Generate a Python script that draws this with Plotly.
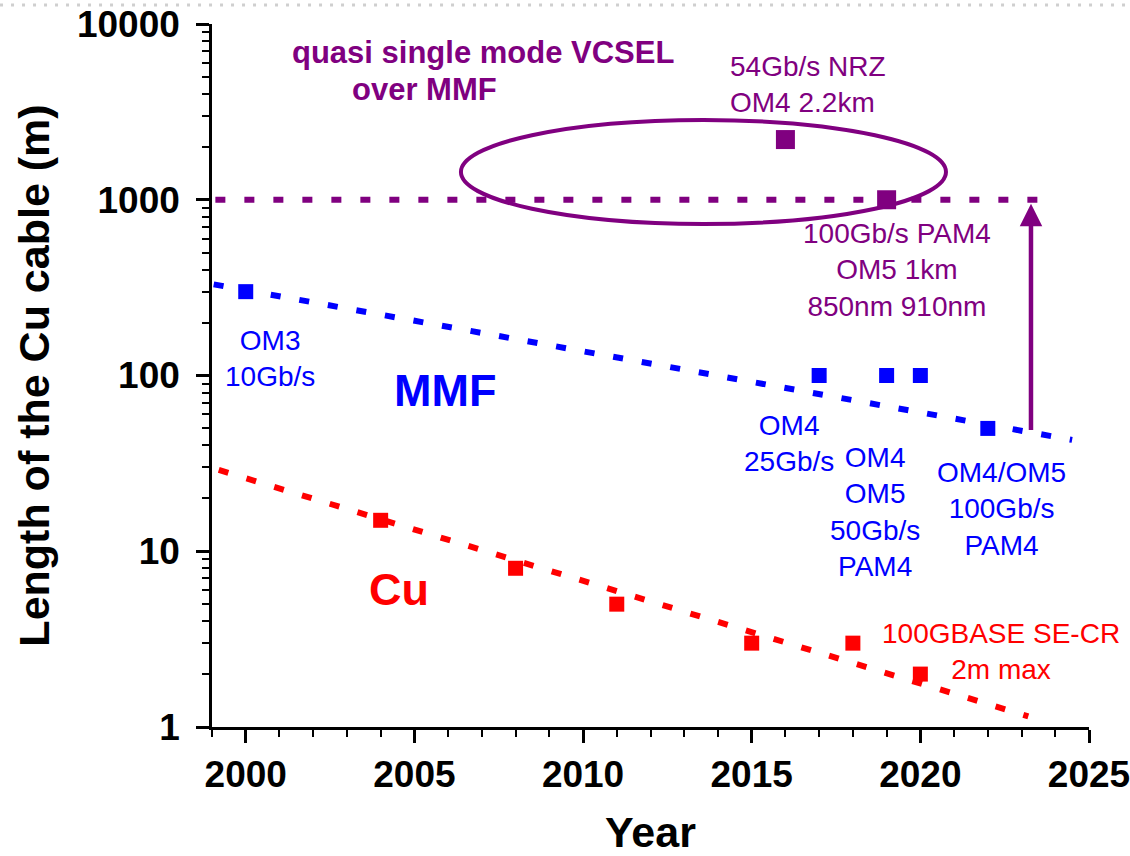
import math
import plotly.graph_objects as go

FONT = "Liberation Sans, Arial, sans-serif"
PURPLE = "#800080"
BLUE = "#0000FF"
RED = "#FF0000"

# Copper cable reach over time
cu_years = [2004, 2008, 2011, 2015, 2018, 2020]
cu_length = [15, 8, 5, 3, 3, 2]

# Multimode fibre reach over time
mmf_years = [2000, 2017, 2019, 2020, 2022]
mmf_length = [300, 100, 100, 100, 50]

# Quasi single mode VCSEL over MMF results
vcsel_years = [2016, 2019]
vcsel_length = [2200, 1000]

# Trend guides
cu_trend_years = [1999.2, 2023.2]
cu_trend_length = [29, 1.15]
mmf_trend_years = [1999.05, 2024.5]
mmf_trend_length = [330, 43]
vcsel_ref_years = [1999.1, 2023.9]
vcsel_ref_length = [1000, 1000]

# Axis ticks
x_major = [2000, 2005, 2010, 2015, 2020, 2025]
x_minor = list(range(1999, 2026))
y_major = [1, 10, 100, 1000, 10000]
y_labels = ["1", "10", "100", "1000", "10000"]
y_minor = [m * d for d in [1, 10, 100, 1000] for m in range(2, 10)]

DASH = "10px,19px"

fig = go.Figure()

for xs, ys, col in [
    (cu_trend_years, cu_trend_length, RED),
    (mmf_trend_years, mmf_trend_length, BLUE),
    (vcsel_ref_years, vcsel_ref_length, PURPLE),
]:
    fig.add_trace(go.Scatter(x=xs, y=ys, mode="lines",
                             line=dict(color=col, width=6, dash=DASH),
                             hoverinfo="skip"))

for xs, ys, col, sz in [
    (cu_years, cu_length, RED, 15),
    (mmf_years, mmf_length, BLUE, 15),
    (vcsel_years, vcsel_length, PURPLE, 19),
]:
    fig.add_trace(go.Scatter(x=xs, y=ys, mode="markers",
                             marker=dict(symbol="square", size=sz, color=col,
                                         line=dict(width=0))))

# Ellipse around the VCSEL results (y given as fraction of the log axis span)
y_lo, y_hi = 0.0, 4.0
ell_x = (2006.38, 2020.76)
ell_len = (728, 2844)
fig.add_shape(type="circle", xref="x", yref="y domain",
              x0=ell_x[0], x1=ell_x[1],
              y0=(math.log10(ell_len[0]) - y_lo) / (y_hi - y_lo),
              y1=(math.log10(ell_len[1]) - y_lo) / (y_hi - y_lo),
              line=dict(color=PURPLE, width=4), layer="above")

# Dotted rule along the top of the page
fig.add_shape(type="line", xref="paper", yref="paper",
              x0=-0.2417, x1=1.0467, y0=1.027, y1=1.027,
              line=dict(color="#cfcfcf", width=3, dash="3px,8px"))

# Upward arrow toward the 1 km level
fig.add_annotation(x=2023.28, y=math.log10(950), ax=2023.28, ay=math.log10(48),
                   xref="x", yref="y", axref="x", ayref="y",
                   text="", showarrow=True, arrowhead=2, arrowsize=1.0,
                   arrowwidth=4.5, arrowcolor=PURPLE)


def label(text, x, y, color, size=28, bold=False, align="center", xanchor="center"):
    fig.add_annotation(x=x, y=y, xref="x", yref="y", text=text, showarrow=False,
                       align=align, xanchor=xanchor, yanchor="middle",
                       font=dict(family=FONT, size=size, color=color,
                                 weight="bold" if bold else "normal"))


label("quasi single mode VCSEL", 2007.03, 3.838, PURPLE, size=31, bold=True)
label("over MMF", 2005.31, 3.630, PURPLE, size=31, bold=True)
label("54Gb/s NRZ<br>OM4 2.2km", 2014.30, 3.653, PURPLE, align="left", xanchor="left")
label("100Gb/s PAM4<br>OM5 1km<br>850nm 910nm", 2019.31, 2.600, PURPLE)
label("OM3<br>10Gb/s", 2000.72, 2.094, BLUE)
label("MMF", 2005.91, 1.912, BLUE, size=45, bold=True)
label("Cu", 2004.54, 0.780, RED, size=45, bold=True)
label("OM4<br>25Gb/s", 2016.11, 1.613, BLUE)
label("OM4<br>OM5<br>50Gb/s<br>PAM4", 2018.66, 1.223, BLUE)
label("OM4/OM5<br>100Gb/s<br>PAM4", 2022.42, 1.238, BLUE)
label("100GBASE SE-CR<br>2m max", 2022.39, 0.430, RED)

axis_font = dict(family=FONT, size=37, color="black", weight="bold")
title_font = dict(family=FONT, size=43, color="black", weight="bold")

fig.update_layout(
    width=1130, height=856, autosize=False,
    margin=dict(l=212, r=41, t=24, b=129, pad=0, autoexpand=False),
    paper_bgcolor="white", plot_bgcolor="white",
    showlegend=False,
    xaxis=dict(range=[1999, 2025], tickmode="array", tickvals=x_major,
               automargin=False, ticklabeloverflow="allow",
               ticks="outside", ticklen=13, tickwidth=2.5, tickcolor="black",
               showline=True, linecolor="black", linewidth=2.5,
               showgrid=False, zeroline=False, tickfont=axis_font,
               minor=dict(tickmode="array", tickvals=x_minor, ticks="outside",
                          ticklen=7, tickwidth=2, tickcolor="black", showgrid=False),
               title=dict(text="Year", font=title_font, standoff=40)),
    yaxis=dict(type="log", range=[y_lo, y_hi], tickmode="array",
               tickvals=y_major, ticktext=y_labels,
               automargin=False, ticklabeloverflow="allow",
               ticks="outside", ticklen=13, tickwidth=2.5, tickcolor="black",
               showline=True, linecolor="black", linewidth=2.5,
               showgrid=False, zeroline=False, tickfont=axis_font,
               ticklabelstandoff=9,
               minor=dict(tickmode="array", tickvals=y_minor, ticks="outside",
                          ticklen=7, tickwidth=2, tickcolor="black", showgrid=False),
               title=dict(text="Length of the Cu cable (m)", font=title_font, standoff=14)),
)

fig.write_html("out.html")
